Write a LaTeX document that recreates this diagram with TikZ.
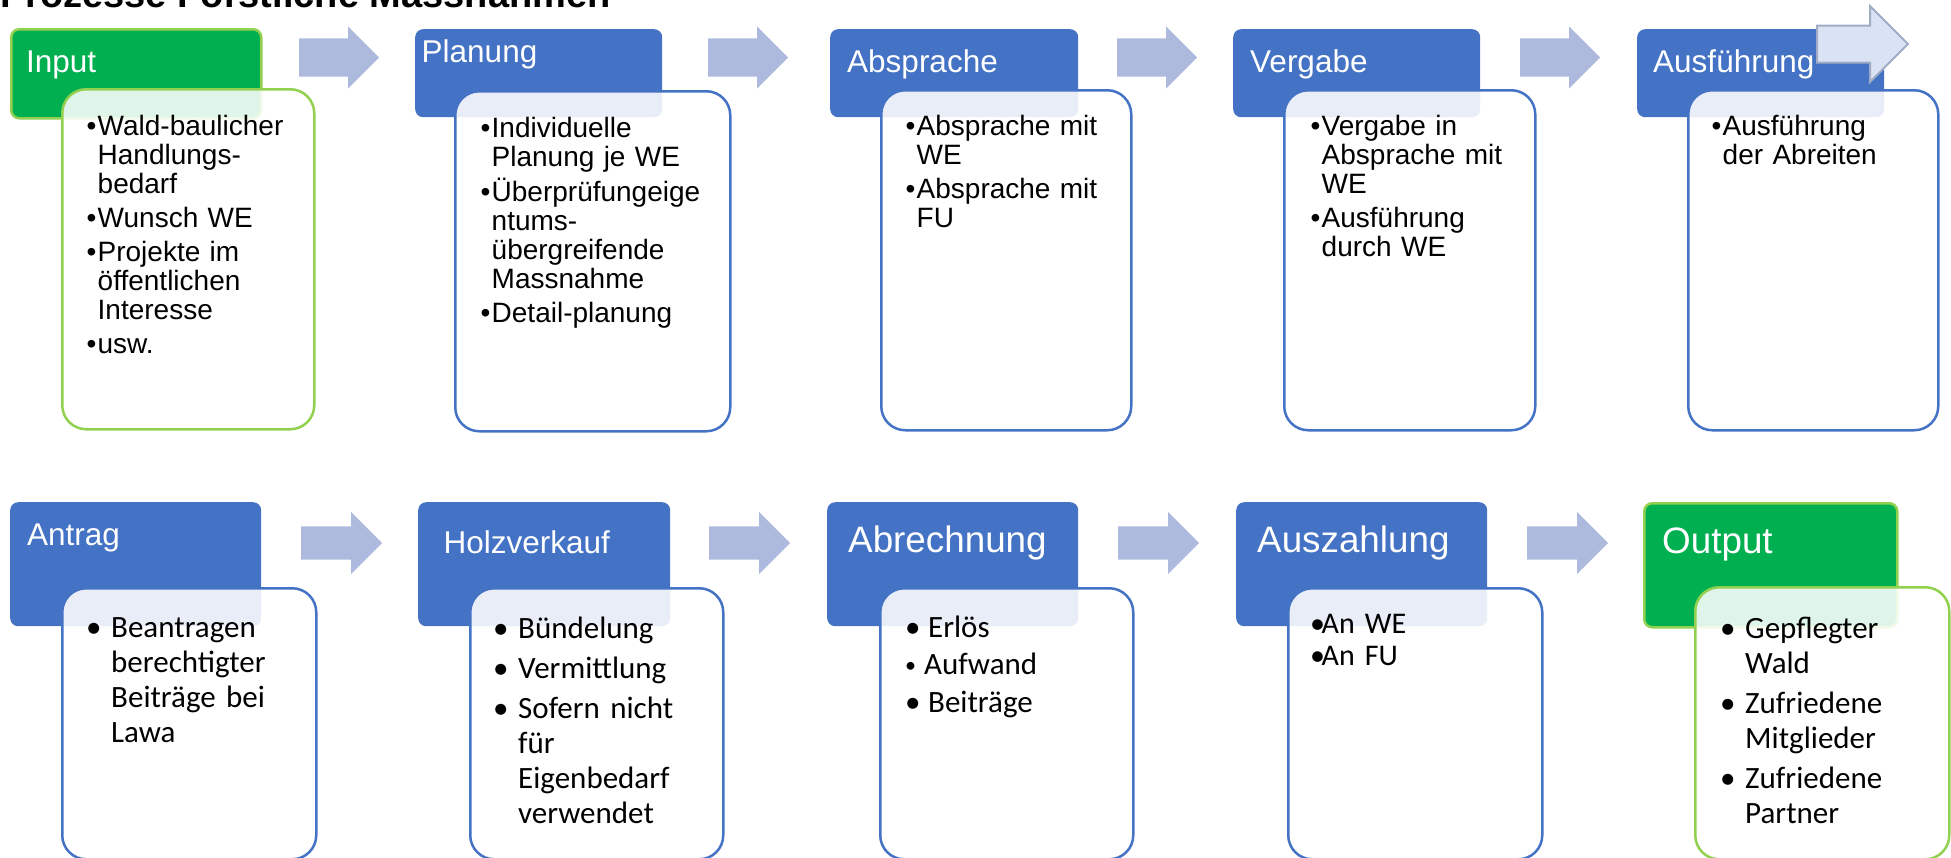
\documentclass[tikz,border=0pt]{standalone}
\usepackage{fontspec}
\setmainfont{Liberation Sans}
\newfontfamily\calibri{Carlito}
\usetikzlibrary{shapes.arrows}

\definecolor{hdblue}{RGB}{68,114,196}
\definecolor{hdgreen}{RGB}{0,176,80}
\definecolor{lgreen}{RGB}{146,208,80}
\definecolor{arrowblue}{RGB}{174,186,221}
\definecolor{paleblue}{RGB}{218,227,243}
\definecolor{greyblue}{RGB}{160,172,198}

\newlength{\bulind}
\newcommand{\bl}[1]{\hangindent=\bulind\hangafter=1\makebox[\bulind][l]{\textbullet}#1\par}
\newcommand{\sbl}[1]{\hangindent=\bulind\hangafter=1\makebox[16pt][l]{\raisebox{2.5pt}{\fontsize{22}{22}\selectfont\textbullet}}#1\par}
\newcommand{\topgap}{\rule{0pt}{33pt}}

\begin{document}
\begin{tikzpicture}[x=1pt, y=-1pt,
    hdbox/.style={anchor=north west, inner sep=0pt, rounded corners=8pt, fill=hdblue},
    startbox/.style={hdbox, fill=hdgreen, draw=lgreen, line width=2.5pt},
    bodybox/.style={anchor=north west, inner sep=0pt, rounded corners=24pt, fill=white, fill opacity=0.88, draw=hdblue, line width=2.5pt},
    greenbody/.style={bodybox, draw=lgreen},
    hdtext/.style={anchor=base west, inner sep=0pt, text=white, font=\fontsize{31.5}{36}\selectfont},
    bigtext/.style={hdtext, font=\fontsize{36.8}{42}\selectfont},
    listtext/.style={anchor=north west, inner sep=0pt, text width=260pt, align=left, font=\fontsize{28}{29}\selectfont, execute at begin node={\setlength{\bulind}{11pt}\setlength{\parskip}{5pt}}},
    callist/.style={listtext, font=\calibri\fontsize{31}{35}\selectfont, execute at begin node={\setlength{\bulind}{25pt}\setlength{\parskip}{5pt}}},
    flowarrow/.style={single arrow, anchor=tail, fill=arrowblue, inner xsep=0pt, inner ysep=19pt, minimum height=80pt, single arrow head extend=12pt, single arrow tip angle=90}]
\useasboundingbox (0,0) rectangle (1951,857);

\node[anchor=base west, inner sep=0pt, font=\bfseries\fontsize{38}{44}\selectfont] (title) at (0,7) {Prozesse Forstliche Massnahmen};

% first row
\node[startbox, minimum width=250pt, minimum height=89pt] (hIn) at (10,28) {};
\node[hdbox, minimum width=247pt, minimum height=88pt] (hPl) at (415,29) {};
\node[hdbox, minimum width=248pt, minimum height=88pt] (hAb) at (830,29) {};
\node[hdbox, minimum width=247pt, minimum height=88pt] (hVe) at (1233,29) {};
\node[hdbox, minimum width=247pt, minimum height=88pt] (hAu) at (1637,29) {};

\node[greenbody, minimum width=252pt, minimum height=340pt] (bIn) at (61,88) {};
\node[bodybox, minimum width=275pt, minimum height=340pt] (bPl) at (454,90) {};
\node[bodybox, minimum width=250pt, minimum height=340pt] (bAb) at (880,89) {};
\node[bodybox, minimum width=251pt, minimum height=340pt] (bVe) at (1283,89) {};
\node[bodybox, minimum width=250pt, minimum height=340pt] (bAu) at (1687,89) {};

\node[hdtext] (lIn) at (26,72) {Input};
\node[hdtext] (lPl) at (421.5,62) {Planung};
\node[hdtext] (lAb) at (847,72) {Absprache};
\node[hdtext] (lVe) at (1250,72) {Vergabe};
\node[hdtext] (lAu) at (1653,72) {Ausführung};

\node[listtext] (tIn) at (86.5,102) {\bl{\topgap Wald-baulicher\newline Handlungs-\newline bedarf}\bl{Wunsch WE}\bl{Projekte im\newline öffentlichen\newline Interesse}\bl{usw.}};
\node[listtext] (tPl) at (480.5,104) {\bl{\topgap Individuelle\newline Planung je WE}\bl{Überprüfungeige\newline ntums-\newline übergreifende\newline Massnahme}\bl{Detail-planung}};
\node[listtext] (tAb) at (905.5,102) {\bl{\topgap Absprache mit\newline WE}\bl{Absprache mit\newline FU}};
\node[listtext] (tVe) at (1310.5,102) {\bl{\topgap Vergabe in\newline Absprache mit\newline WE}\bl{Ausführung\newline durch WE}};
\node[listtext] (tAu) at (1711.5,102) {\bl{\topgap Ausführung\newline der Abreiten}};

\node[flowarrow] (a1) at (299,57.5) {};
\node[flowarrow] (a2) at (708,57.5) {};
\node[flowarrow] (a3) at (1117,57.5) {};
\node[flowarrow] (a4) at (1520,57.5) {};
\node[flowarrow, fill=paleblue, draw=greyblue, line width=2pt, inner ysep=17.5pt, minimum height=91pt, single arrow head extend=19.5pt] (a5) at (1816,44) {};

% second row
\node[hdbox, minimum width=251pt, minimum height=124pt] (hAn) at (10,502) {};
\node[hdbox, minimum width=252pt, minimum height=124pt] (hHo) at (418,502) {};
\node[hdbox, minimum width=251pt, minimum height=124pt] (hAr) at (827,502) {};
\node[hdbox, minimum width=251pt, minimum height=124pt] (hAz) at (1236,502) {};
\node[startbox, minimum width=253pt, minimum height=124pt] (hOu) at (1643,502) {};

\node[bodybox, minimum width=254pt, minimum height=271pt] (bAn) at (61,587) {};
\node[bodybox, minimum width=253pt, minimum height=271pt] (bHo) at (469,587) {};
\node[bodybox, minimum width=253pt, minimum height=271pt] (bAr) at (879,587) {};
\node[bodybox, minimum width=254pt, minimum height=271pt] (bAz) at (1287,587) {};
\node[greenbody, minimum width=254pt, minimum height=272pt] (bOu) at (1694,586) {};

\node[hdtext] (lAn) at (27,545) {Antrag};
\node[hdtext] (lHo) at (443.5,553) {Holzverkauf};
\node[bigtext] (lAr) at (848,552) {Abrechnung};
\node[bigtext] (lAz) at (1257,552) {Auszahlung};
\node[bigtext] (lOu) at (1662,553) {Output};

\node[callist] (tAn) at (86,604) {\bl{\topgap Beantragen\newline berechtigter\newline Beiträge bei\newline Lawa}};
\node[callist] (tHo) at (493,605) {\bl{\topgap Bündelung}\bl{Vermittlung}\bl{Sofern nicht\newline für\newline Eigenbedarf\newline verwendet}};
\node[callist, execute at begin node={\setlength{\bulind}{23pt}\setlength{\parskip}{2.5pt}}] (tAr) at (905,604) {\bl{\topgap Erlös}\sbl{\hspace*{3pt}Aufwand}\bl{Beiträge}};
\node[callist, font=\calibri\fontsize{30}{32}\selectfont, execute at begin node={\setlength{\bulind}{11.5pt}\setlength{\parskip}{0pt}}] (tAz) at (1310,600) {\bl{\topgap An WE}\bl{An FU}};
\node[callist] (tOu) at (1720,605) {\bl{\topgap Gepflegter\newline Wald}\bl{Zufriedene\newline Mitglieder}\bl{Zufriedene\newline Partner}};

\node[flowarrow, inner ysep=16.5pt, single arrow head extend=14.5pt, minimum height=81pt] (b1) at (301,543) {};
\node[flowarrow, inner ysep=16.5pt, single arrow head extend=14.5pt, minimum height=81pt] (b2) at (709,543) {};
\node[flowarrow, inner ysep=16.5pt, single arrow head extend=14.5pt, minimum height=81pt] (b3) at (1118,543) {};
\node[flowarrow, inner ysep=16.5pt, single arrow head extend=14.5pt, minimum height=81pt] (b4) at (1527,543) {};
\end{tikzpicture}
\end{document}
